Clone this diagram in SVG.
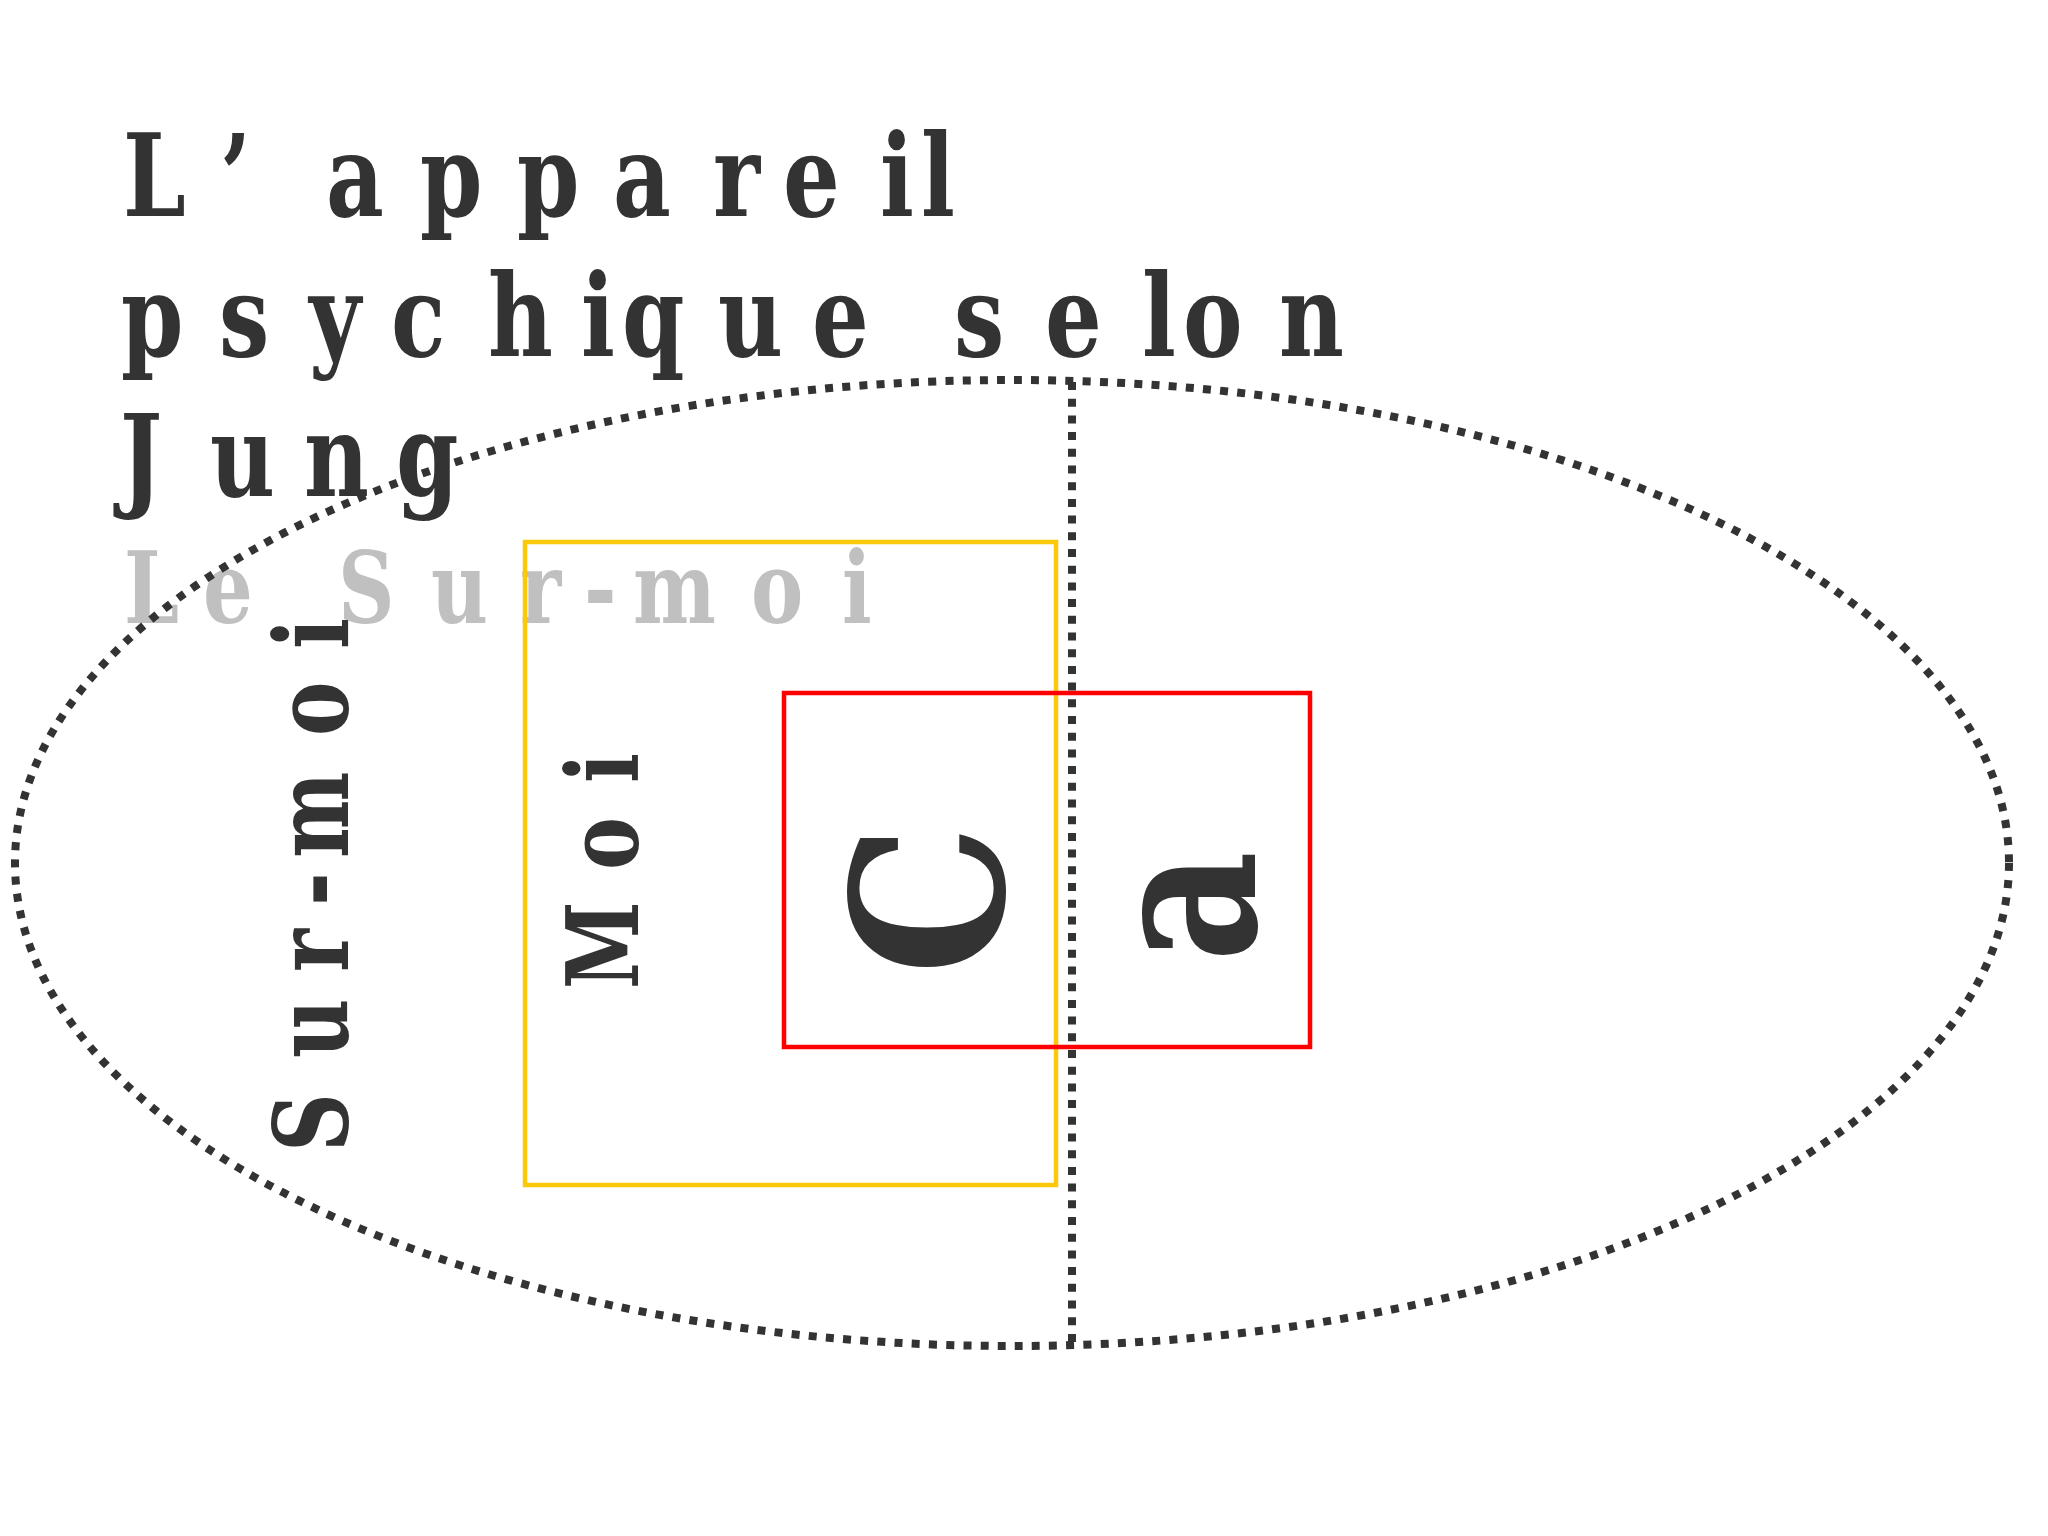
<svg xmlns="http://www.w3.org/2000/svg" width="2048" height="1536" viewBox="0 0 2048 1536">
<style>
.t{font-family:'DejaVu Serif Condensed','DejaVu Serif',serif;font-stretch:condensed;font-weight:bold;fill:#333333}
.g{font-family:'DejaVu Serif Condensed','DejaVu Serif',serif;font-stretch:condensed;font-weight:bold;fill:#c0c0c0}
.dots{fill:none;stroke:#333333}
</style>
<rect width="2048" height="1536" fill="#ffffff"/>
<g id="title" transform="scale(0.87 1)">
<text class="t" font-size="114" x="141.4 252.9 321.8 374.7 482.8 594.3 704.6 819.5 900 1011.5 1058.6" y="216">L’ appareil</text>
<text class="t" font-size="114" x="139.1 251.7 355.2 449.4 560.9 667.8 714.9 825.3 933.3 1034.5 1096.6 1201.1 1312.6 1359.8 1470.1" y="356">psychique selon</text>
<text class="t" font-size="114" x="137.9 241.4 349.4 455.2" y="496">Jung</text>
</g>
<g id="subtitle" transform="scale(0.87 1)">
<text class="g" font-size="100" x="142.5 233.3 321.8 388.5 495.4 597.7 671.3 727.6 863.2 967.8" y="623">Le Sur-moi</text>
</g>
<g id="surmoi">
<text class="t" font-size="103" transform="translate(348 0) rotate(-90) scale(0.88 1)" x="-1309.1 -1202.3 -1104.5 -1029.5 -975 -836.4 -737.5" y="0">Sur-moi</text>
</g>
<g id="moi">
<rect x="525" y="542" width="531" height="643" fill="none" stroke="#fcc80a" stroke-width="4.5"/>
<text class="t" font-size="100" transform="translate(638 0) rotate(-90) scale(0.88 1)" x="-1123.9 -988.6 -889.8" y="0">Moi</text>
</g>
<g id="conscient">
<rect x="784" y="693" width="526" height="354" fill="none" stroke="#ff0000" stroke-width="4.5"/>
<text class="t" font-size="210" transform="translate(1003 0) rotate(-90)" x="-975" y="0">C</text>
<text class="t" font-size="212" transform="translate(1255 0) rotate(-90) scale(0.9 1)" x="-1069" y="0">a</text>
</g>
<g id="connectors">
<ellipse class="dots" cx="1012" cy="863" rx="997" ry="483" stroke-width="8" stroke-dasharray="8 9.2"/>
<line class="dots" x1="1072" y1="382" x2="1072" y2="1346" stroke-width="8" stroke-dasharray="8 8.7"/>
</g>
</svg>
